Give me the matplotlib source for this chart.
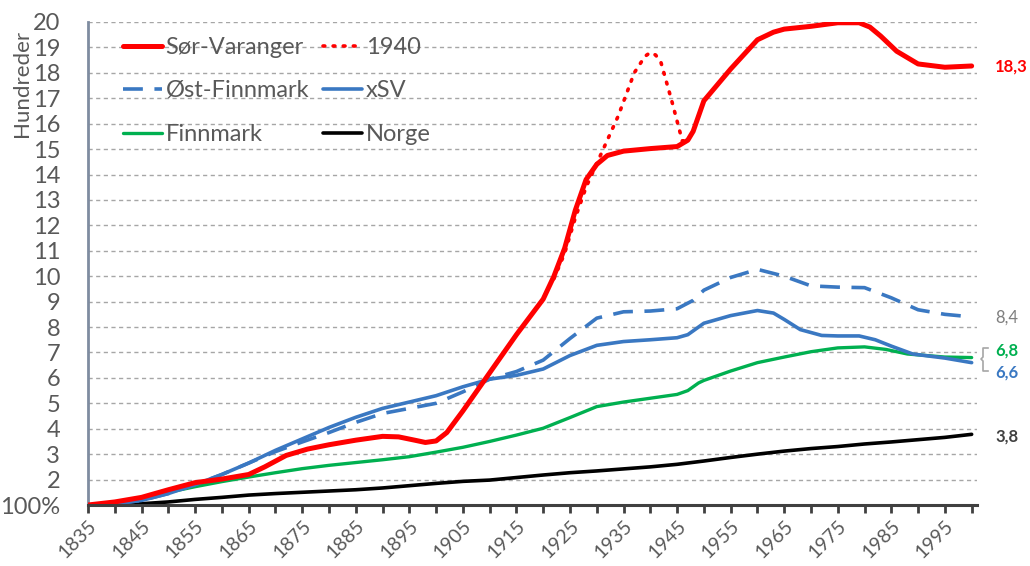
import matplotlib
matplotlib.use("Agg")
import matplotlib.pyplot as plt
from matplotlib.lines import Line2D
from matplotlib.transforms import blended_transform_factory

# ---------------- data ----------------
sv_years = [1835, 1840, 1845, 1850, 1855, 1860, 1865, 1868, 1872, 1876, 1880, 1885, 1890, 1893,
            1896, 1898, 1900, 1902, 1905, 1910, 1915, 1920, 1922, 1924, 1926, 1928, 1930, 1932,
            1935, 1940, 1945, 1947, 1948, 1949, 1950, 1955, 1960, 1963, 1965, 1970, 1975, 1979,
            1981, 1983, 1986, 1990, 1995, 2000]
sv_vals = [1.0, 1.12, 1.3, 1.6, 1.88, 2.02, 2.2, 2.5, 2.95, 3.2, 3.37, 3.55, 3.7, 3.68,
           3.55, 3.46, 3.52, 3.85, 4.7, 6.2, 7.7, 9.1, 10.0, 11.1, 12.6, 13.8, 14.4, 14.75,
           14.92, 15.02, 15.1, 15.35, 15.7, 16.3, 16.9, 18.15, 19.3, 19.6, 19.72, 19.83, 19.97, 19.97,
           19.8, 19.45, 18.85, 18.35, 18.22, 18.27]

y1940_years = [1922, 1924, 1926, 1928, 1931, 1934, 1937, 1939, 1940, 1941, 1942, 1944, 1946, 1947]
y1940_vals = [9.9, 10.9, 12.3, 13.5, 14.9, 16.3, 18.0, 18.65, 18.8, 18.7, 18.4, 16.9, 15.3, 15.4]

of_years = [1835, 1840, 1845, 1850, 1855, 1860, 1865, 1870, 1875, 1880, 1885, 1890, 1895,
            1900, 1905, 1910, 1915, 1920, 1925, 1930, 1935, 1940, 1945, 1948, 1950, 1955,
            1960, 1965, 1970, 1975, 1980, 1985, 1990, 1995, 2000]
of_vals = [1.0, 1.05, 1.18, 1.45, 1.8, 2.2, 2.65, 3.1, 3.48, 3.85, 4.25, 4.6, 4.8,
           5.0, 5.45, 5.95, 6.25, 6.7, 7.55, 8.35, 8.6, 8.63, 8.72, 9.05, 9.45, 9.95,
           10.27, 10.0, 9.62, 9.57, 9.55, 9.15, 8.68, 8.5, 8.4]

xsv_years = [1835, 1840, 1845, 1850, 1855, 1860, 1865, 1870, 1875, 1880, 1885, 1890, 1895,
             1900, 1905, 1910, 1915, 1920, 1925, 1930, 1935, 1940, 1945, 1947, 1949, 1950,
             1955, 1960, 1963, 1965, 1968, 1972, 1975, 1979, 1982, 1985, 1989, 1995, 2000]
xsv_vals = [1.0, 1.05, 1.18, 1.45, 1.8, 2.2, 2.65, 3.15, 3.6, 4.05, 4.45, 4.8, 5.05,
            5.3, 5.65, 5.95, 6.1, 6.35, 6.88, 7.28, 7.43, 7.5, 7.58, 7.7, 8.0, 8.15,
            8.45, 8.65, 8.55, 8.3, 7.9, 7.67, 7.65, 7.65, 7.5, 7.25, 6.94, 6.78, 6.6]

fm_years = [1835, 1840, 1845, 1850, 1855, 1860, 1865, 1870, 1875, 1880, 1885, 1890, 1895,
            1900, 1905, 1910, 1915, 1920, 1925, 1930, 1935, 1940, 1945, 1947, 1949, 1950,
            1955, 1960, 1965, 1970, 1975, 1980, 1984, 1988, 1995, 2000]
fm_vals = [1.0, 1.08, 1.25, 1.5, 1.72, 1.92, 2.1, 2.27, 2.43, 2.56, 2.67, 2.78, 2.9,
           3.08, 3.27, 3.5, 3.75, 4.02, 4.44, 4.87, 5.05, 5.2, 5.35, 5.5, 5.8, 5.9,
           6.27, 6.6, 6.82, 7.03, 7.18, 7.22, 7.12, 6.94, 6.82, 6.8]

no_years = [1835, 1840, 1845, 1850, 1855, 1860, 1865, 1870, 1875, 1880, 1885, 1890, 1895,
            1900, 1905, 1910, 1915, 1920, 1925, 1930, 1935, 1940, 1945, 1950, 1955, 1960,
            1965, 1970, 1975, 1980, 1985, 1990, 1995, 2000]
no_vals = [1.0, 1.02, 1.05, 1.12, 1.22, 1.3, 1.39, 1.45, 1.5, 1.55, 1.6, 1.67, 1.76,
           1.85, 1.93, 1.98, 2.08, 2.18, 2.27, 2.34, 2.42, 2.5, 2.6, 2.73, 2.87, 3.0,
           3.12, 3.22, 3.3, 3.4, 3.48, 3.57, 3.66, 3.78]

y_ticks = list(range(1, 21))
y_ticklabels = ["100%"] + [str(v) for v in range(2, 21)]
x_ticks = list(range(1835, 2001, 5))
x_ticklabels = [str(y) if (y - 1835) % 10 == 0 and y < 2000 else "" for y in x_ticks]

end_labels = [("18,3", 18.25, "#FF0000", "bold"),
              ("8,4", 8.38, "#7F7F7F", "normal"),
              ("6,8", 7.08, "#00B050", "bold"),
              ("6,6", 6.22, "#3A78C2", "bold"),
              ("3,8", 3.7, "#404040", "bold")]

# ---------------- style ----------------
RED = "#FF0000"
BLUE = "#3A78C2"
GREEN = "#00B050"
GRAYTXT = "#595959"

plt.rcParams['font.family'] = ['Lato', 'DejaVu Sans']

fig = plt.figure(figsize=(10.3, 5.66), dpi=100)
W, H = 1030, 566
ax = fig.add_axes([88 / W, 1 - 505 / H, (977 - 88) / W, (505 - 22) / H])

ax.set_xlim(1835, 2001)
ax.set_ylim(1, 20)

ax.set_yticks(y_ticks)
ax.set_yticklabels(y_ticklabels)
ax.set_xticks(x_ticks)
ax.set_xticklabels(x_ticklabels, rotation=45, ha='right', va='top', rotation_mode='anchor')

ax.yaxis.grid(True, color="#A6A6A6", linestyle=(0, (3, 2.5)), linewidth=1.0)
ax.set_axisbelow(True)

for s in ["top", "right"]:
    ax.spines[s].set_visible(False)
ax.spines["left"].set_color("#7F8CA0")
ax.spines["left"].set_linewidth(2)
ax.spines["bottom"].set_color("#404040")
ax.spines["bottom"].set_linewidth(2.2)
ax.spines["bottom"].set_zorder(5)

ax.tick_params(axis='y', length=0, pad=20, labelsize=17, labelcolor=GRAYTXT)
ax.tick_params(axis='x', length=6, width=2, color="#404040", direction='out',
               pad=3, labelsize=14, labelcolor=GRAYTXT)

# ---------------- lines ----------------
ax.plot(no_years, no_vals, color="black", lw=2.6, solid_capstyle='round',
        solid_joinstyle='round', label="Norge", zorder=3)
ax.plot(fm_years, fm_vals, color=GREEN, lw=2.4, solid_capstyle='round',
        solid_joinstyle='round', label="Finnmark", zorder=3)
ax.plot(of_years, of_vals, color=BLUE, lw=2.6, linestyle=(0, (5.5, 3.2)), label="Øst-Finnmark", zorder=3)
ax.plot(xsv_years, xsv_vals, color=BLUE, lw=2.6, solid_capstyle='round',
        solid_joinstyle='round', label="xSV", zorder=3)
ax.plot(y1940_years, y1940_vals, color=RED, lw=2.6, linestyle=(0, (0.5, 2.3)),
        dash_capstyle='round', label="1940", zorder=3)
ax.plot(sv_years, sv_vals, color=RED, lw=3.6, solid_capstyle='round',
        solid_joinstyle='round', label="Sør-Varanger", zorder=4)

# ---------------- legend ----------------
h = {l.get_label(): l for l in ax.get_lines()}
order = ["Sør-Varanger", "Øst-Finnmark", "Finnmark", "1940", "xSV", "Norge"]
leg = ax.legend([h[k] for k in order], order, ncol=2, frameon=False,
                loc='upper left', bbox_to_anchor=(123 / W, 1 - 37 / H),
                bbox_transform=fig.transFigure,
                fontsize=17, handlelength=1.65, handletextpad=0.15,
                columnspacing=0.6, labelspacing=0.95, borderaxespad=0, borderpad=0)
for t in leg.get_texts():
    t.set_color(GRAYTXT)

# ---------------- end labels ----------------
lab_tr = blended_transform_factory(fig.transFigure, ax.transData)
for txt, yv, col, wt in end_labels:
    ax.text(995 / W, yv, txt, transform=lab_tr, color=col, fontsize=12,
            fontweight=wt, ha='left', va='center', clip_on=False)

# bracket near 6,8 / 6,6
bx = [988 / W, 983 / W, 983 / W, 981 / W, 983 / W, 983 / W, 988 / W]
by = [1 - 348 / H, 1 - 348 / H, 1 - 357 / H, 1 - 359 / H, 1 - 361 / H, 1 - 371 / H, 1 - 371 / H]
fig.add_artist(Line2D(bx, by, color="#A6A6A6", lw=1.2, transform=fig.transFigure))

# y label
fig.text(22 / W, 1 - 83 / H, "Hundreder", rotation=90, ha='center', va='center',
         fontsize=16, color=GRAYTXT)

fig.savefig("out.png", dpi=100)
